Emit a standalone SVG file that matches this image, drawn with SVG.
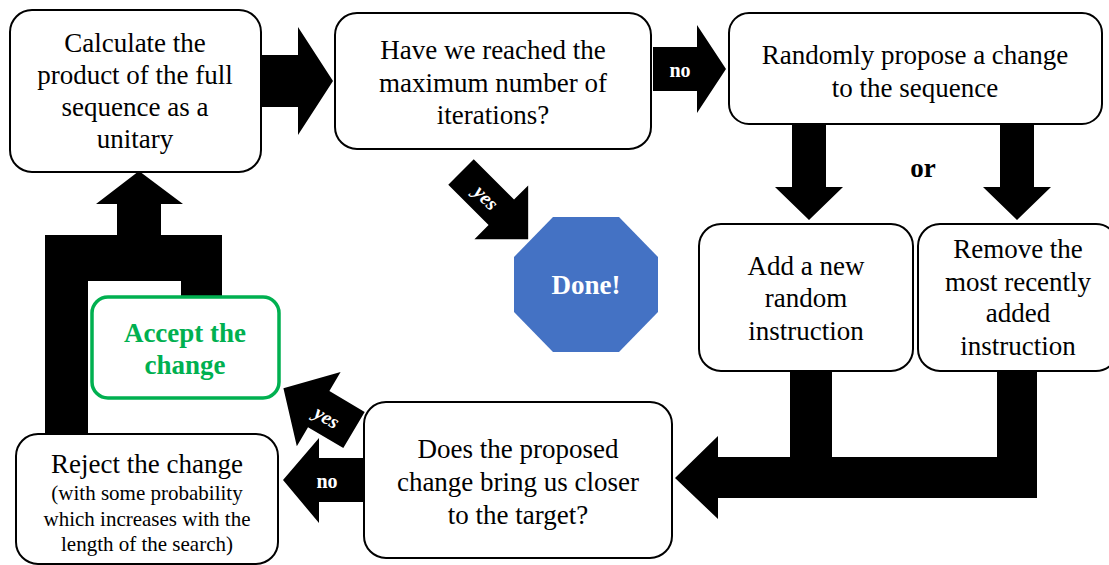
<svg xmlns="http://www.w3.org/2000/svg" width="1109" height="565" viewBox="0 0 1109 565">
<style>
.box{fill:#fff;stroke:#000;stroke-width:2}
.acc{fill:#fff;stroke:#00B050;stroke-width:3.5}
.t{font-family:"Liberation Serif","Times New Roman",serif;font-size:27px;fill:#000;text-anchor:middle}
.s{font-size:21px}
.g{font-weight:bold;fill:#00B050}
.w{font-family:"Liberation Serif","Times New Roman",serif;font-weight:bold;fill:#fff;text-anchor:middle}
.arr{fill:#000}
</style>
<rect width="1109" height="565" fill="#fff"/>
<g id="connectors">
<polygon class="arr" points="262,55 298,55 298,27 333,81 298,135 298,107 262,107"/>
<polygon class="arr" points="653,47 697,47 697,25 726,69 697,113 697,91 653,91"/>
<text class="w" x="680" y="77" font-size="20">no</text>
<polygon class="arr" points="792,124 826,124 826,187 843,187 809,220 775,187 792,187"/>
<polygon class="arr" points="1000,124 1034,124 1034,187 1051,187 1017,220 983,187 1000,187"/>
<text class="t" x="923" y="177" font-size="26" font-weight="bold">or</text>
<g transform="translate(461,172) rotate(45)">
<polygon class="arr" points="0,-18 57,-18 57,-38 95,0 57,38 57,18 0,18"/>
<text class="w" x="36" y="7" font-size="20" font-style="italic">yes</text>
</g>
<path class="arr" d="M790,371 L832,371 L832,457 L997,457 L997,371 L1037,371 L1037,498 L718,498 L718,519 L675,478 L718,436 L718,457 L790,457 Z"/>
<g transform="translate(354,430) rotate(210.6)">
<polygon class="arr" points="0,-21 41,-21 41,-43 82,0 41,43 41,21 0,21"/>
</g>
<text class="w" x="327" y="424" font-size="20" font-style="italic" transform="rotate(30.6 327 417)">yes</text>
<polygon class="arr" points="364,458 319,458 319,438 283,480 319,523 319,502 364,502"/>
<text class="w" x="327" y="488" font-size="20">no</text>
<path class="arr" d="M45,434 V235 H117 V204 H96 L139,171 L183,204 H161 V235 H222 V297 H181 V281 H88 V434 Z"/>
</g>
<g id="calc">
<rect class="box" x="10" y="10" width="251" height="162" rx="22"/>
<text class="t" x="135" y="52">Calculate the</text>
<text class="t" x="135" y="84">product of the full</text>
<text class="t" x="135" y="116">sequence as a</text>
<text class="t" x="135" y="148">unitary</text>
</g>
<g id="maxiter">
<rect class="box" x="335" y="13" width="316" height="136" rx="22"/>
<text class="t" x="493" y="59">Have we reached the</text>
<text class="t" x="493" y="92">maximum number of</text>
<text class="t" x="493" y="124">iterations?</text>
</g>
<g id="propose">
<rect class="box" x="729" y="13" width="373" height="111" rx="20"/>
<text class="t" x="915" y="64">Randomly propose a change</text>
<text class="t" x="915" y="97">to the sequence</text>
</g>
<g id="add">
<rect class="box" x="699" y="224" width="214" height="147" rx="22"/>
<text class="t" x="806" y="275">Add a new</text>
<text class="t" x="806" y="307">random</text>
<text class="t" x="806" y="340">instruction</text>
</g>
<g id="remove">
<rect class="box" x="918" y="224" width="200" height="147" rx="22"/>
<text class="t" x="1018" y="258">Remove the</text>
<text class="t" x="1018" y="291">most recently</text>
<text class="t" x="1018" y="322">added</text>
<text class="t" x="1018" y="355">instruction</text>
</g>
<g id="done">
<polygon fill="#4472C4" points="553,217 619,217 658,257 658,312 619,352 553,352 514,312 514,257"/>
<text class="w" x="586" y="294" font-size="27">Done!</text>
</g>
<g id="closer">
<rect class="box" x="364" y="402" width="308" height="156" rx="22"/>
<text class="t" x="518" y="458">Does the proposed</text>
<text class="t" x="518" y="491">change bring us closer</text>
<text class="t" x="518" y="524">to the target?</text>
</g>
<g id="accept">
<rect class="acc" x="92" y="297" width="187" height="101" rx="16"/>
<text class="t g" x="185" y="342">Accept the</text>
<text class="t g" x="185" y="374">change</text>
</g>
<g id="reject">
<rect class="box" x="16" y="434" width="262" height="130" rx="22"/>
<text class="t" x="147" y="473">Reject the change</text>
<text class="t s" x="147" y="500">(with some probability</text>
<text class="t s" x="147" y="526">which increases with the</text>
<text class="t s" x="147" y="551">length of the search)</text>
</g>
</svg>
